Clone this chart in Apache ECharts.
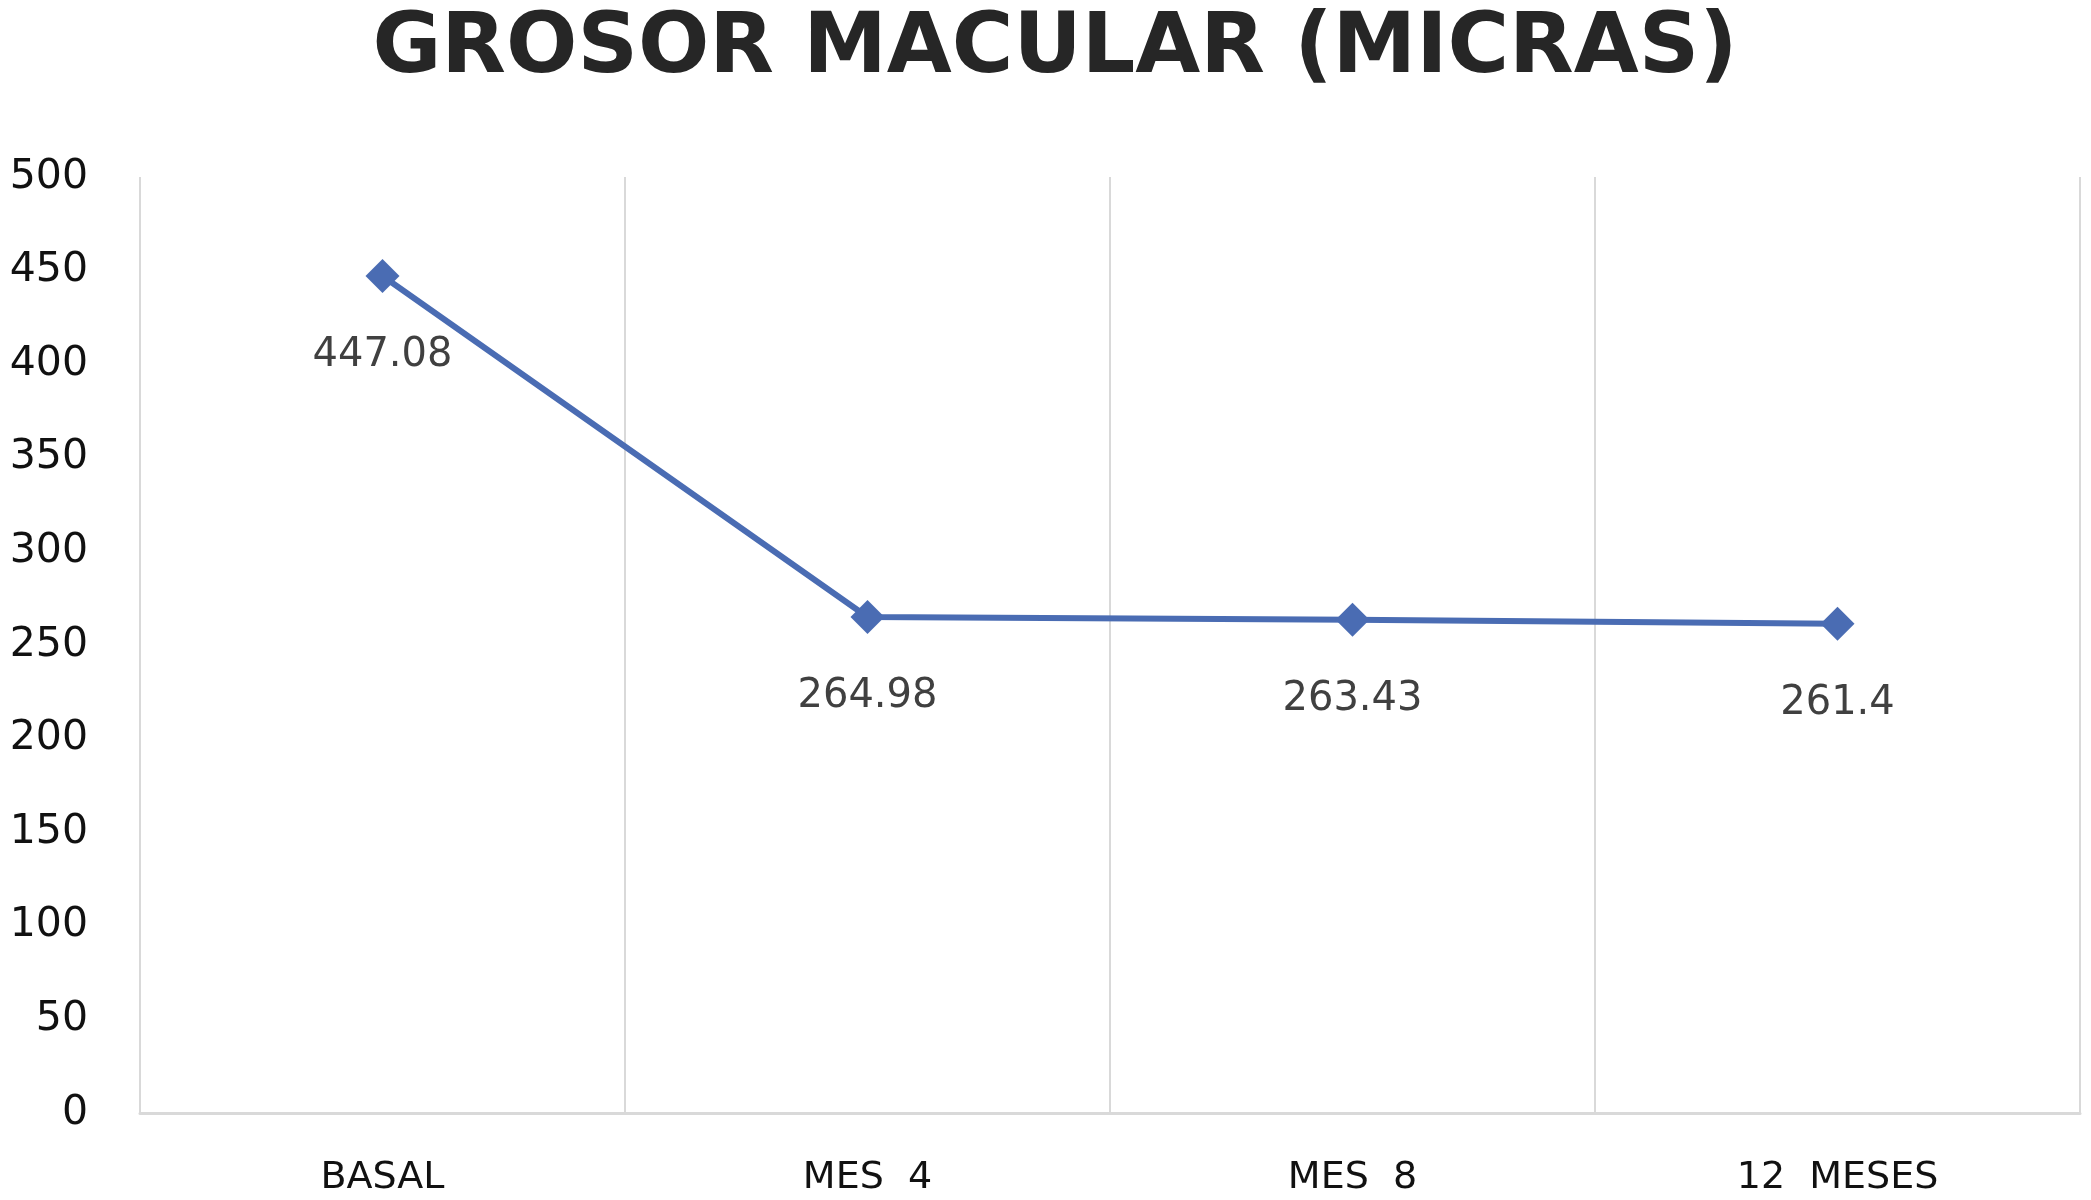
<!DOCTYPE html>
<html>
<head>
<meta charset="utf-8">
<script src="https://cdn.jsdelivr.net/npm/echarts@6/dist/echarts.min.js"></script>
<style>
html,body{margin:0;padding:0;background:#fff;}
#chart{width:2091px;height:1200px;}
</style>
</head>
<body>
<div id="chart"></div>
<script>
const titleText = 'GROSOR MACULAR (MICRAS)';
const categories = ['BASAL', 'MES  4', 'MES  8', '12  MESES'];
const values = [447.08, 264.98, 263.43, 261.4];
const valueLabels = ['447.08', '264.98', '263.43', '261.4'];
const yMin = 0, yMax = 500, yInterval = 50;

const chart = echarts.init(document.getElementById('chart'), null, {renderer: 'canvas'});
chart.setOption({
  backgroundColor: '#ffffff',
  animation: false,
  title: {
    text: titleText,
    left: 1055,
    textAlign: 'center',
    top: 8,
    padding: 0,
    textStyle: {
      fontFamily: 'DejaVu Sans',
      fontWeight: 'bold',
      fontSize: 84,
      color: '#262626'
    }
  },
  grid: {left: 140, right: 11, top: 177, bottom: 87, containLabel: false},
  xAxis: {
    type: 'category',
    data: categories,
    boundaryGap: true,
    axisLine: {show: true, lineStyle: {color: '#d9d9d9', width: 3}},
    axisTick: {show: false},
    splitLine: {show: true, lineStyle: {color: '#d9d9d9', width: 2}},
    axisLabel: {
      margin: 46,
      fontFamily: 'DejaVu Sans',
      fontSize: 38,
      color: '#111111'
    }
  },
  yAxis: {
    type: 'value',
    min: yMin, max: yMax, interval: yInterval,
    axisLine: {show: false},
    axisTick: {show: false},
    splitLine: {show: false},
    axisLabel: {
      margin: 52,
      fontFamily: 'DejaVu Sans',
      fontSize: 41,
      color: '#111111'
    }
  },
  series: [{
    type: 'line',
    data: values,
    symbol: 'diamond',
    symbolSize: 34,
    itemStyle: {color: '#4a6cb3'},
    lineStyle: {color: '#4a6cb3', width: 6},
    label: {
      show: true,
      position: 'inside',
      offset: [0, 80],
      fontFamily: 'DejaVu Sans',
      fontSize: 40,
      color: '#404040',
      formatter: p => valueLabels[p.dataIndex]
    }
  }]
});
</script>
</body>
</html>
